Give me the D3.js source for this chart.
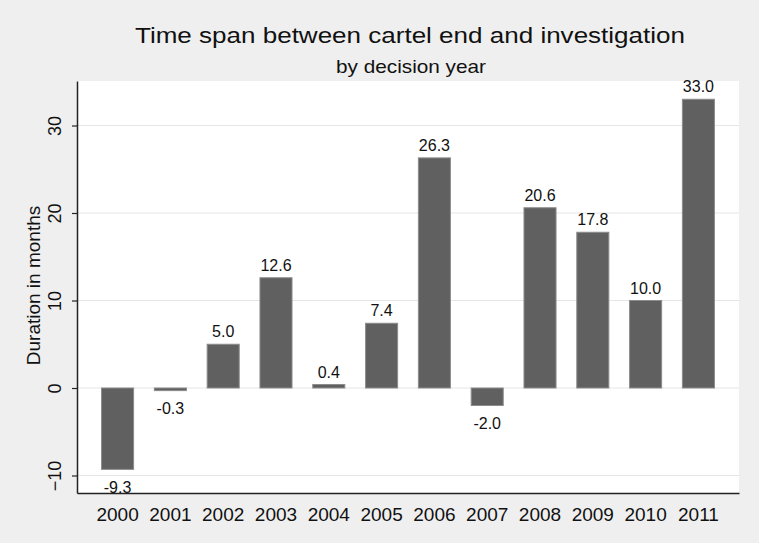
<!DOCTYPE html>
<html>
<head>
<meta charset="utf-8">
<script src="https://cdn.jsdelivr.net/npm/d3@7"></script>
<style>
  html, body { margin: 0; padding: 0; background: #efefef; }
  svg { display: block; }
  text { font-family: "Liberation Sans", Arial, sans-serif; fill: #111; }
</style>
</head>
<body>
<script>
const years = ["2000","2001","2002","2003","2004","2005","2006","2007","2008","2009","2010","2011"];
const durations = [-9.3, -0.3, 5.0, 12.6, 0.4, 7.4, 26.3, -2.0, 20.6, 17.8, 10.0, 33.0];
const yTicks = [-10, 0, 10, 20, 30];
const titleText = "Time span between cartel end and investigation";
const subtitleText = "by decision year";
const yLabel = "Duration in months";

const W = 759, H = 543;
const plot = { left: 77, right: 739, top: 81, bottom: 493 };

const svg = d3.select("body").append("svg").attr("width", W).attr("height", H);
svg.append("rect").attr("width", W).attr("height", H).attr("fill", "#efefef");
svg.append("rect")
  .attr("x", plot.left).attr("y", plot.top)
  .attr("width", plot.right - plot.left).attr("height", plot.bottom - plot.top)
  .attr("fill", "#ffffff");

const x = d3.scaleBand().domain(years).range([plot.left, plot.right])
  .paddingInner(0.393).paddingOuter(0.465);
const y = d3.scaleLinear().domain([-12, 35.086]).range([plot.bottom, plot.top]);

// gridlines
svg.append("g").selectAll("line").data(yTicks).join("line")
  .attr("x1", plot.left).attr("x2", plot.right)
  .attr("y1", d => y(d)).attr("y2", d => y(d))
  .attr("stroke", "#e6e6e6").attr("stroke-width", 1.2);

// bars
svg.append("g").selectAll("rect").data(durations).join("rect")
  .attr("x", (d, i) => x(years[i]))
  .attr("width", x.bandwidth())
  .attr("y", d => y(Math.max(0, d)))
  .attr("height", d => Math.abs(y(d) - y(0)))
  .attr("fill", "#606060")
  .attr("stroke", "#8c8c8c").attr("stroke-width", 1);

// value labels
svg.append("g").selectAll("text").data(durations).join("text")
  .attr("x", (d, i) => x(years[i]) + x.bandwidth() / 2)
  .attr("y", d => d >= 0 ? y(d) - 7 : y(d) + 23.5)
  .attr("text-anchor", "middle")
  .attr("font-size", 16)
  .text(d => d.toFixed(1));

// y axis
const yAxis = svg.append("g").attr("transform", `translate(${plot.left},0)`)
  .call(d3.axisLeft(y).tickValues(yTicks).tickSize(5).tickSizeOuter(0).tickFormat(d3.format("d")));
yAxis.select(".domain").attr("stroke", "#222").attr("stroke-width", 1.5);
yAxis.selectAll(".tick line").attr("stroke", "#222").attr("stroke-width", 1.2);
yAxis.selectAll(".tick text")
  .attr("x", null).attr("dy", null)
  .attr("transform", "translate(-16,0) rotate(-90)")
  .attr("text-anchor", "middle")
  .attr("font-size", 18)
  .attr("font-family", "'Liberation Sans', Arial, sans-serif")
  .attr("fill", "#111");

// x axis
const xAxis = svg.append("g").attr("transform", `translate(0,${plot.bottom})`)
  .call(d3.axisBottom(x).tickSize(0).tickSizeOuter(0));
xAxis.select(".domain").attr("stroke", "#222").attr("stroke-width", 1.5);
xAxis.selectAll(".tick text")
  .attr("y", 28).attr("dy", null)
  .attr("font-size", 19)
  .attr("font-family", "'Liberation Sans', Arial, sans-serif")
  .attr("fill", "#111");

// axis title
svg.append("text")
  .attr("transform", "translate(40,285.5) rotate(-90)")
  .attr("text-anchor", "middle")
  .attr("font-size", 19)
  .text(yLabel);

// titles
svg.append("text")
  .attr("x", 410).attr("y", 43)
  .attr("text-anchor", "middle")
  .attr("font-size", 22.5)
  .attr("textLength", 550).attr("lengthAdjust", "spacingAndGlyphs")
  .text(titleText);
svg.append("text")
  .attr("x", 411).attr("y", 73)
  .attr("text-anchor", "middle")
  .attr("font-size", 18.5)
  .attr("textLength", 150).attr("lengthAdjust", "spacingAndGlyphs")
  .text(subtitleText);
</script>
</body>
</html>
